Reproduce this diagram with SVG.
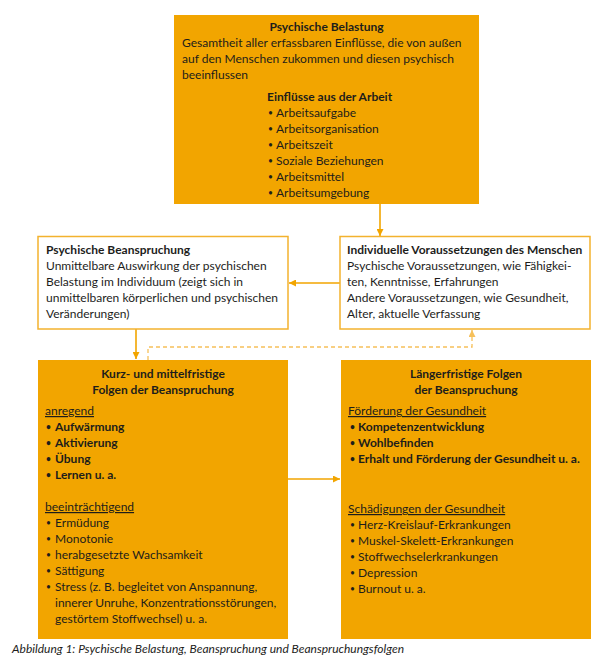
<svg xmlns="http://www.w3.org/2000/svg" width="598" height="658" viewBox="0 0 598 658">
<style>
text{font-family:Lato,"Noto Sans","Liberation Sans",sans-serif;font-size:12px;fill:#1d1d1b}
.b{font-weight:bold}
.c{text-anchor:middle}
.u{text-decoration:underline}
.d{font-size:8.5px}
.fill{fill:#F2A500}
.box{fill:#fff;stroke:#F3B22E;stroke-width:1.5}
.con{stroke:#F2A500;stroke-width:1.6;fill:none}
.dash{stroke:#F6C05A;stroke-width:1.3;fill:none;stroke-dasharray:4 3}
.cap{font-style:italic;font-size:12px}
</style>
<defs>
<marker id="ah" viewBox="0 0 10 10" refX="10" refY="5" markerWidth="7" markerHeight="7" markerUnits="userSpaceOnUse" orient="auto"><path d="M0,0 L10,5 L0,10 z" fill="#F2A500"/></marker>
<marker id="ahl" viewBox="0 0 10 10" refX="10" refY="5" markerWidth="7" markerHeight="7" markerUnits="userSpaceOnUse" orient="auto"><path d="M0,0 L10,5 L0,10 z" fill="#F6C05A"/></marker>
</defs>

<g id="connectors">
<path class="con" d="M380,204 V236" marker-end="url(#ah)"/>
<path class="con" d="M340,283 H289" marker-end="url(#ah)"/>
<path class="con" d="M136,329 V359" marker-end="url(#ah)"/>
<path class="con" d="M288,479 H340" marker-end="url(#ah)"/>
<path class="dash" d="M148,360 V347 H472 V330" marker-end="url(#ahl)"/>
</g>

<g id="belastung">
<rect class="fill" x="174" y="15" width="305" height="189"/>
<text class="b c" x="326.5" y="31">Psychische Belastung</text>
<text x="182" y="47">Gesamtheit aller erfassbaren Einflüsse, die von außen</text>
<text x="182" y="63">auf den Menschen zukommen und diesen psychisch</text>
<text x="182" y="79">beeinflussen</text>
<text class="b" x="267" y="101">Einflüsse aus der Arbeit</text>
<text class="d" x="268" y="116">•</text><text x="276" y="117">Arbeitsaufgabe</text>
<text class="d" x="268" y="132">•</text><text x="276" y="133">Arbeitsorganisation</text>
<text class="d" x="268" y="148">•</text><text x="276" y="149">Arbeitszeit</text>
<text class="d" x="268" y="164">•</text><text x="276" y="165">Soziale Beziehungen</text>
<text class="d" x="268" y="180">•</text><text x="276" y="181">Arbeitsmittel</text>
<text class="d" x="268" y="196">•</text><text x="276" y="197">Arbeitsumgebung</text>
</g>

<g id="beanspruchung">
<rect class="box" x="38" y="236.5" width="250" height="92.5"/>
<text class="b" x="46" y="253.5">Psychische Beanspruchung</text>
<text x="46" y="269.5">Unmittelbare Auswirkung der psychischen</text>
<text x="46" y="285.5">Belastung im Individuum (zeigt sich in</text>
<text x="46" y="301.5">unmittelbaren körperlichen und psychischen</text>
<text x="46" y="317.5">Veränderungen)</text>
</g>

<g id="voraussetzungen">
<rect class="box" x="340" y="236.5" width="250" height="92.5"/>
<text class="b" x="347" y="253.5">Individuelle Voraussetzungen des Menschen</text>
<text x="347" y="269.5">Psychische Voraussetzungen, wie Fähigkei-</text>
<text x="347" y="285.5">ten, Kenntnisse, Erfahrungen</text>
<text x="347" y="301.5">Andere Voraussetzungen, wie Gesundheit,</text>
<text x="347" y="317.5">Alter, aktuelle Verfassung</text>
</g>

<g id="kurzfristig">
<rect class="fill" x="38" y="360" width="250" height="279"/>
<text class="b c" x="163" y="378">Kurz- und mittelfristige</text>
<text class="b c" x="163" y="394">Folgen der Beanspruchung</text>
<text class="u" x="45" y="415">anregend</text>
<text class="b d" x="46" y="430">•</text><text class="b" x="55" y="431">Aufwärmung</text>
<text class="b d" x="46" y="446">•</text><text class="b" x="55" y="447">Aktivierung</text>
<text class="b d" x="46" y="462">•</text><text class="b" x="55" y="463">Übung</text>
<text class="b d" x="46" y="478">•</text><text class="b" x="55" y="479">Lernen u. a.</text>
<text class="u" x="45" y="511">beeinträchtigend</text>
<text class="d" x="46" y="526">•</text><text x="55" y="527">Ermüdung</text>
<text class="d" x="46" y="542">•</text><text x="55" y="543">Monotonie</text>
<text class="d" x="46" y="558">•</text><text x="55" y="559">herabgesetzte Wachsamkeit</text>
<text class="d" x="46" y="574">•</text><text x="55" y="575">Sättigung</text>
<text class="d" x="46" y="590">•</text><text x="55" y="591">Stress (z. B. begleitet von Anspannung,</text>
<text x="55" y="607">innerer Unruhe, Konzentrationsstörungen,</text>
<text x="55" y="623">gestörtem Stoffwechsel) u. a.</text>
</g>

<g id="laengerfristig">
<rect class="fill" x="341" y="360" width="250" height="279"/>
<text class="b c" x="466" y="378">Längerfristige Folgen</text>
<text class="b c" x="466" y="394">der Beanspruchung</text>
<text class="u" x="348" y="415">Förderung der Gesundheit</text>
<text class="b d" x="350" y="430">•</text><text class="b" x="358" y="431">Kompetenzentwicklung</text>
<text class="b d" x="350" y="446">•</text><text class="b" x="358" y="447">Wohlbefinden</text>
<text class="b d" x="350" y="462">•</text><text class="b" x="358" y="463">Erhalt und Förderung der Gesundheit u. a.</text>
<text class="u" x="348" y="513">Schädigungen der Gesundheit</text>
<text class="d" x="350" y="528">•</text><text x="358" y="529">Herz-Kreislauf-Erkrankungen</text>
<text class="d" x="350" y="544">•</text><text x="358" y="545">Muskel-Skelett-Erkrankungen</text>
<text class="d" x="350" y="560">•</text><text x="358" y="561">Stoffwechselerkrankungen</text>
<text class="d" x="350" y="576">•</text><text x="358" y="577">Depression</text>
<text class="d" x="350" y="592">•</text><text x="358" y="593">Burnout u. a.</text>
</g>

<text class="cap" x="12" y="653">Abbildung 1: Psychische Belastung, Beanspruchung und Beanspruchungsfolgen</text>
</svg>
